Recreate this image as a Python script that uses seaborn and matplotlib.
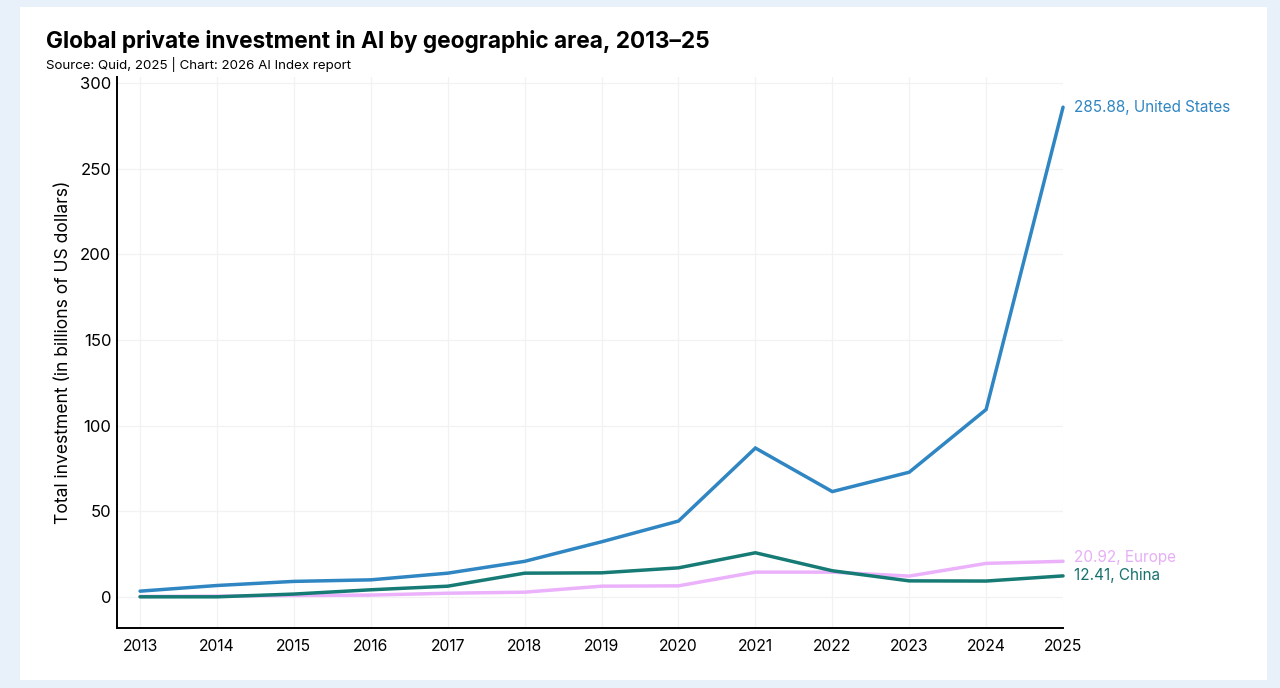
# Global private investment in AI by geographic area, 2013-25
import pandas as pd
import matplotlib.pyplot as plt
import seaborn as sns
from matplotlib.patches import Rectangle

# -------------------------------
# data
# -------------------------------
years = list(range(2013, 2026))
us = [3.5, 6.8, 9.2, 10.1, 14.0, 20.9, 32.3, 44.4, 87.0, 61.6, 72.9, 109.5, 285.88]
china = [0.2, 0.2, 1.8, 4.3, 6.4, 14.0, 14.2, 17.1, 25.9, 15.4, 9.5, 9.4, 12.41]
europe = [0.4, 0.6, 1.0, 1.2, 2.3, 2.9, 6.4, 6.6, 14.6, 14.6, 12.3, 19.7, 20.92]
regions = ["United States", "Europe", "China"]
colors = {"United States": "#2f86c2", "Europe": "#ebb2fb", "China": "#167a75"}
label_colors = {"United States": "#2f86c2", "Europe": "#e7aef8", "China": "#17726d"}

df = pd.DataFrame({
    "year": years * 3,
    "value": us + europe + china,
    "region": ["United States"] * 13 + ["Europe"] * 13 + ["China"] * 13,
})

# -------------------------------
# figure
# -------------------------------
sns.set_theme(style="white")
plt.rcParams["font.family"] = ["Inter", "DejaVu Sans"]

fig = plt.figure(figsize=(12.8, 6.88), dpi=100)
fig.patch.set_facecolor("#e8f1fa")
fig.patches.append(Rectangle((0.0156, 0.0116), 0.9744, 0.978, transform=fig.transFigure,
                             facecolor="white", edgecolor="none", zorder=-10))

ax = fig.add_axes([0.0914, 0.0872, 0.7391, 0.8009])
ax.set_facecolor("none")
ax.set_zorder(1)

sns.lineplot(data=df, x="year", y="value", hue="region", hue_order=regions,
             palette=colors, linewidth=2.5, legend=False, ax=ax)
for ln in ax.lines:
    ln.set_clip_on(False)
    ln.set_solid_joinstyle("miter")

# end labels (Europe nudged up a little so it clears China)
last = df[df["year"] == years[-1]]
for r in regions:
    v = last.loc[last["region"] == r, "value"].iloc[0]
    dy = 2.5 if r == "Europe" else 0
    ax.annotate(f"{v:.2f}, {r}", xy=(years[-1], v + dy), xytext=(8, 0),
                textcoords="offset points", va="center", ha="left",
                fontsize=11, color=label_colors[r])

ax.set_xlim(2012.7, 2025)
ax.set_ylim(-18, 303.5)
ax.set_xticks(years)
ax.set_yticks(range(0, 301, 50))
ax.grid(True, color="#f2f2f2", linewidth=0.9)
ax.set_axisbelow(True)
sns.despine(ax=ax)
for s in ["left", "bottom"]:
    ax.spines[s].set_color("black")
    ax.spines[s].set_linewidth(1.4)
ax.tick_params(axis="x", length=0, labelsize=11.3, colors="black", pad=8)
ax.tick_params(axis="y", length=0, labelsize=12, colors="black", pad=4)
ax.set_xlabel("")
ax.set_ylabel("Total investment (in billions of US dollars)", fontsize=12.6, color="black", labelpad=6)

fig.text(0.036, 0.930, "Global private investment in AI by geographic area, 2013\u201325",
         fontsize=16.3, fontweight="bold", color="black", ha="left", va="baseline")
fig.text(0.036, 0.899, "Source: Quid, 2025 | Chart: 2026 AI Index report",
         fontsize=9.6, color="black", ha="left", va="baseline")

fig.savefig("out.png", dpi=100, facecolor=fig.get_facecolor())
